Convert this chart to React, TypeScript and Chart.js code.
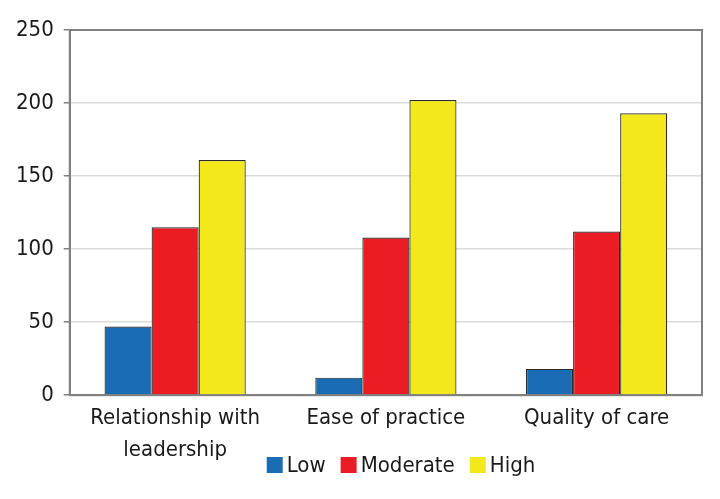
import React, { useEffect, useRef } from "react";
import { Chart, registerables } from "chart.js";

Chart.register(...registerables);

const categories: (string | string[])[] = [["Relationship with", "leadership"], "Ease of practice", "Quality of care"];
const lowValues = [47, 12, 18];
const moderateValues = [115, 108, 112];
const highValues = [161, 202, 193];
const seriesNames = ["Low", "Moderate", "High"];
const seriesColors = ["#1a6db5", "#ec1c24", "#f3e81a"];
const yTicks = [0, 50, 100, 150, 200, 250];

const FONT = "'Liberation Sans Narrow', 'Arial Narrow', 'DejaVu Sans Condensed', sans-serif";
const TEXT = "#1a1a1a";

const framePlugin = {
  id: "frame",
  afterDatasetsDraw(chart: any) {
    const { ctx, chartArea } = chart;
    ctx.save();
    ctx.strokeStyle = "#808080";
    ctx.lineWidth = 2;
    ctx.strokeRect(chartArea.left, chartArea.top, chartArea.right - chartArea.left, chartArea.bottom - chartArea.top);
    ctx.restore();
  },
  afterDraw(chart: any) {
    const { ctx } = chart;
    const boxSize = 16;
    const boxGap = 4;
    const itemGap = 15;
    const centerX = 401;
    const centerY = 465;
    ctx.save();
    ctx.font = `22px ${FONT}`;
    const items = chart.data.datasets.map((d: any) => ({
      text: d.label,
      color: d.backgroundColor,
      w: boxSize + boxGap + ctx.measureText(d.label).width,
    }));
    const total = items.reduce((s: number, it: any) => s + it.w, 0) + itemGap * (items.length - 1);
    let x = centerX - total / 2;
    ctx.textBaseline = "middle";
    ctx.textAlign = "left";
    for (const it of items) {
      ctx.fillStyle = it.color;
      ctx.fillRect(x, centerY - boxSize / 2, boxSize, boxSize);
      ctx.fillStyle = TEXT;
      ctx.fillText(it.text, x + boxSize + boxGap, centerY + 1);
      x += it.w + itemGap;
    }
    ctx.restore();
  },
};

export default function App() {
  const ref = useRef<HTMLCanvasElement>(null);
  useEffect(() => {
    document.body.style.margin = "0";
    const chart = new Chart(ref.current!, {
      type: "bar",
      data: {
        labels: categories,
        datasets: seriesNames.map((name, i) => ({
          label: name,
          data: [lowValues, moderateValues, highValues][i],
          backgroundColor: seriesColors[i],
          borderColor: "#2a2a2a",
          borderWidth: 1.2,
        })),
      },
      options: {
        animation: false,
        responsive: false,
        maintainAspectRatio: false,
        layout: { padding: { left: 6, right: 18, top: 30, bottom: 26 } },
        datasets: { bar: { barPercentage: 1, categoryPercentage: 0.67 } },
        plugins: {
          legend: { display: false },
          tooltip: { enabled: false },
        },
        scales: {
          x: {
            grid: { display: false, drawTicks: false },
            border: { display: true, color: "#808080", width: 2 },
            ticks: { font: { family: FONT, size: 22, lineHeight: 1.45 }, color: TEXT, padding: 7 },
          },
          y: {
            min: 0,
            max: 250,
            afterBuildTicks(axis: any) {
              axis.ticks = yTicks.map((v) => ({ value: v }));
            },
            grid: { color: "#dcdcdc", lineWidth: 1.5, tickLength: 6, tickColor: "#808080" },
            border: { display: true, color: "#808080", width: 2 },
            ticks: { font: { family: FONT, size: 22 }, color: TEXT, padding: 10 },
          },
        },
      },
      plugins: [framePlugin],
    });
    return () => chart.destroy();
  }, []);
  return (
    <div style={{ position: "absolute", left: 0, top: 0, width: 720, height: 499 }}>
      <canvas ref={ref} width={720} height={499} />
    </div>
  );
}
